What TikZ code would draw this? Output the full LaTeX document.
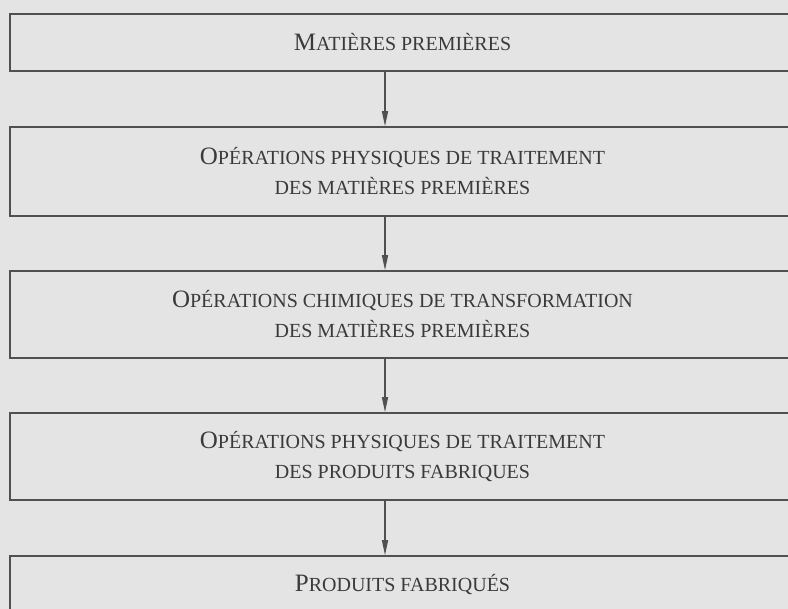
\documentclass[tikz,border=0pt]{standalone}
\usepackage{fontspec}
\setmainfont{Liberation Serif}
\usetikzlibrary{arrows.meta}
\definecolor{bg}{HTML}{E4E4E4}
\definecolor{ln}{HTML}{505050}
\definecolor{tx}{HTML}{3A3A3A}
\newcommand\BigCap[1]{{\fontsize{25}{30}\selectfont #1}}
\begin{document}
\begin{tikzpicture}[x=1pt,y=-1pt,
  stage/.style={draw=ln, line width=1.6pt, fill=bg, rectangle, inner sep=0pt,
    minimum width=785pt, text=tx, align=center, font=\fontsize{20}{30}\selectfont},
  flow/.style={draw=ln, line width=1.3pt, -{Triangle[length=15pt,width=6pt]}}]
\useasboundingbox (0,0) rectangle (788,609);
\fill[bg] (0,0) rectangle (788,609);
\clip (0,0) rectangle (788,609);
\coordinate (ax) at (385,0);
\node[stage, minimum height=57pt] (b1) at (402.5,42.5) {\BigCap{M}ATIÈRES PREMIÈRES};
\node[stage, minimum height=89pt] (b2) at (402.5,171.5) {\BigCap{O}PÉRATIONS PHYSIQUES DE TRAITEMENT\\DES MATIÈRES PREMIÈRES};
\node[stage, minimum height=87pt] (b3) at (402.5,314.5) {\BigCap{O}PÉRATIONS CHIMIQUES DE TRANSFORMATION\\DES MATIÈRES PREMIÈRES};
\node[stage, minimum height=87pt] (b4) at (402.5,456.5) {\BigCap{O}PÉRATIONS PHYSIQUES DE TRAITEMENT\\DES PRODUITS FABRIQUES};
\node[stage, minimum height=57pt] (b5) at (402.5,584.5) {\BigCap{P}RODUITS FABRIQUÉS};
\draw[flow] (b1.south -| ax) -- (b2.north -| ax);
\draw[flow] (b2.south -| ax) -- (b3.north -| ax);
\draw[flow] (b3.south -| ax) -- (b4.north -| ax);
\draw[flow] (b4.south -| ax) -- (b5.north -| ax);
\end{tikzpicture}
\end{document}
